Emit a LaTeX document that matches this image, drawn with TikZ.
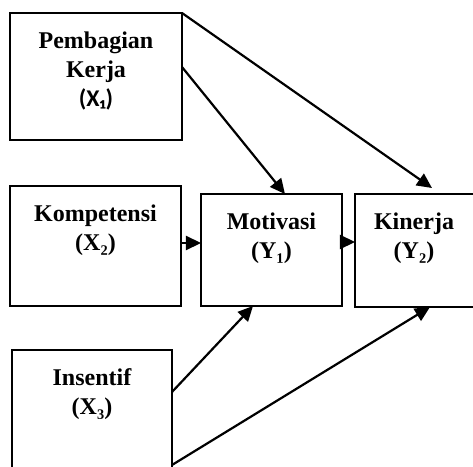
\documentclass[tikz,border=0pt]{standalone}
\usepackage{fontspec}
\setmainfont{Liberation Serif}
\newfontfamily\calibfont{Carlito}
\usetikzlibrary{arrows.meta,positioning}

\tikzset{
  varbox/.style={draw,line width=1.3pt,inner sep=0pt,outer sep=0pt,anchor=north west},
  varname/.style={anchor=north,align=center,inner sep=0pt,
    font=\fontsize{12}{14.5}\selectfont\bfseries,yshift=-9pt},
  link/.style={-{Triangle[length=7.5pt,width=7pt]},line width=1.1pt}
}

\begin{document}
\begin{tikzpicture}[x=0.5pt,y=-0.5pt]
  \clip (0,0) rectangle (473,467);
  % variable boxes
  \node[varbox,minimum width=86pt,minimum height=63.5pt] (x1) at (10,13) {};
  \node[varbox,minimum width=85.5pt,minimum height=60pt] (x2) at (10,186) {};
  \node[varbox,minimum width=80pt,minimum height=65pt] (x3) at (12,350) {};
  \node[varbox,minimum width=70.5pt,minimum height=56pt] (y1) at (201,194) {};
  \node[varbox,minimum width=62pt,minimum height=56.5pt] (y2) at (355,194) {};
  % names
  \node[varname] (x1t) at (x1.north) {Pembagian\\Kerja\\{\calibfont (X₁)}};
  \node[varname] (x2t) at (x2.north) {Kompetensi\\(X₂)};
  \node[varname] (x3t) at (x3.north) {Insentif\\(X₃)};
  \node[varname] (y1t) at (y1.north) {Motivasi\\(Y₁)};
  \node[varname,xshift=-1.5pt] (y2t) at (y2.north) {Kinerja\\(Y₂)};
  % paths
  \draw[link] (x1.north east) -- ([xshift=38.5pt,yshift=3pt]y2.north west);
  \draw[link] ([yshift=-27pt]x1.north east) -- ([xshift=42pt]y1.north west);
  \draw[link] ([yshift=1.5pt]x2.east) -- ([yshift=1.5pt]x2.east -| y1.west);
  \draw[link] ([yshift=4pt]y1.east) -- ([yshift=4pt]y1.east -| y2.west);
  \draw[link] ([yshift=-21pt]x3.north east) -- ([xshift=26pt]y1.south west);
  \draw[link] ([yshift=-57.5pt]x3.north east) -- ([xshift=37.5pt]y2.south west);
\end{tikzpicture}
\end{document}
